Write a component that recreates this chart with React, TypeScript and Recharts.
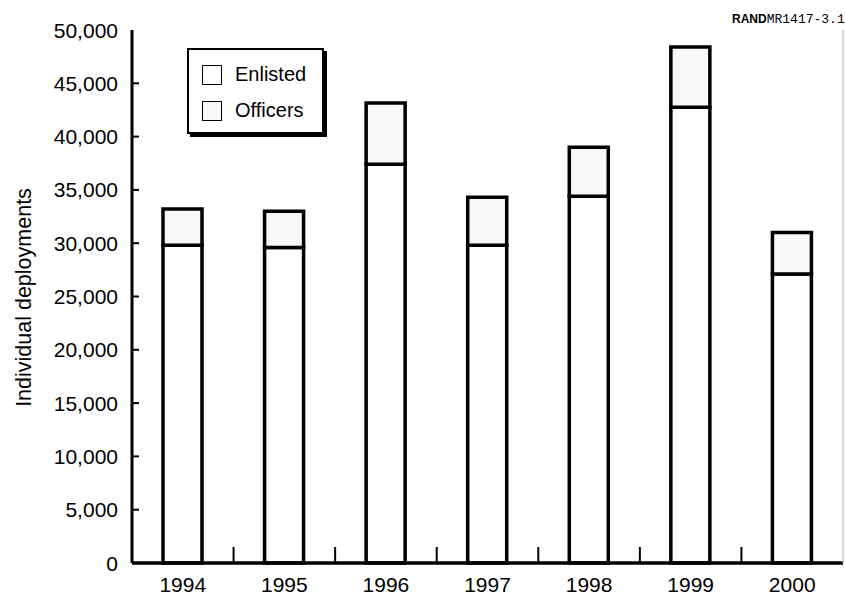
import React from 'react';
import { BarChart, Bar, XAxis, YAxis, Legend } from 'recharts';

const years = ['1994', '1995', '1996', '1997', '1998', '1999', '2000'];
const enlisted = [29800, 29600, 37400, 29800, 34400, 42750, 27100];
const officers = [3400, 3400, 5750, 4500, 4600, 5650, 3900];
const yTicks = [0, 5000, 10000, 15000, 20000, 25000, 30000, 35000, 40000, 45000, 50000];
const seriesNames = ['Enlisted', 'Officers'];

const data = years.map((year, i) => ({ year, enlisted: enlisted[i], officers: officers[i] }));

const FONT = '"Liberation Sans", Arial, Helvetica, sans-serif';

function XTick(props: any) {
  const { x, y, payload, index, width } = props;
  const band = (typeof width === 'number' && width > 0 ? width : 711) / years.length;
  return (
    <g>
      <text x={x} y={y + 29} textAnchor="middle" fontSize={21} fontFamily={FONT} fill="#000">
        {payload.value}
      </text>
      {index < years.length - 1 && (
        <line x1={x + band / 2} x2={x + band / 2} y1={y} y2={y - 16} stroke="#000" strokeWidth={2} />
      )}
    </g>
  );
}

function YTick(props: any) {
  const { x, y, payload } = props;
  const v = payload.value as number;
  return (
    <g>
      <text x={x} y={y} dy={7.5} textAnchor="end" fontSize={21} fontFamily={FONT} fill="#000">
        {v.toLocaleString('en-US')}
      </text>
      {v > 0 && v < 50000 && (
        <line x1={x + 14} x2={x + 21} y1={y} y2={y} stroke="#000" strokeWidth={2} />
      )}
    </g>
  );
}

function YLabel(props: any) {
  const vb = props.viewBox || { x: 0, y: 30, width: 132, height: 533 };
  const cx = vb.x + 31;
  const cy = vb.y + vb.height / 2 + 1;
  return (
    <text
      x={cx}
      y={cy}
      transform={`rotate(-90 ${cx} ${cy})`}
      textAnchor="middle"
      fontSize={21.5}
      fontFamily={FONT}
      fill="#000"
    >
      Individual deployments
    </text>
  );
}

function LegendBox(props: any) {
  const payload = props.payload || [];
  return (
    <div
      style={{
        width: 133,
        height: 82,
        border: '2px solid #000',
        boxShadow: '3px 3px 0 #000',
        background: '#fff',
        fontFamily: FONT,
        fontSize: 20,
        color: '#000',
        position: 'relative',
      }}
    >
      {payload.map((p: any, i: number) => (
        <div
          key={i}
          style={{
            position: 'absolute',
            left: 13,
            top: 14 + i * 36,
            display: 'flex',
            alignItems: 'center',
            whiteSpace: 'nowrap',
          }}
        >
          <div
            style={{
              width: 18,
              height: 18,
              border: '1.5px solid #000',
              background: p.color,
              marginRight: 13,
            }}
          />
          <span style={{ lineHeight: '21px' }}>{p.value}</span>
        </div>
      ))}
    </div>
  );
}

export default function App() {
  return (
    <div
      style={{
        position: 'absolute',
        left: 0,
        top: 0,
        width: 845,
        height: 597,
        overflow: 'hidden',
        background: '#fff',
      }}
    >
      <BarChart
        width={845}
        height={597}
        data={data}
        margin={{ top: 30, right: 0, left: 0, bottom: 0 }}
        barSize={39}
      >
        <XAxis
          dataKey="year"
          height={34}
          tickSize={0}
          tickMargin={0}
          tickLine={false}
          axisLine={{ stroke: '#000', strokeWidth: 3.5 }}
          tick={<XTick />}
          interval={0}
        />
        <XAxis
          xAxisId="top"
          dataKey="year"
          orientation="top"
          height={0}
          tick={false}
          tickLine={false}
          axisLine={{ stroke: '#000', strokeWidth: 2 }}
        />
        <YAxis
          width={132}
          domain={[0, 50000]}
          ticks={yTicks}
          interval={0}
          tickSize={0}
          tickMargin={14}
          tickLine={false}
          axisLine={{ stroke: '#000', strokeWidth: 3 }}
          tick={<YTick />}
          label={<YLabel />}
        />
        <YAxis
          yAxisId="right"
          orientation="right"
          width={2}
          domain={[0, 50000]}
          tick={false}
          tickLine={false}
          axisLine={{ stroke: '#aaa', strokeWidth: 1 }}
        />
        <Legend
          layout="vertical"
          align="center"
          verticalAlign="middle"
          wrapperStyle={{ left: 187, top: 48, width: 'auto', height: 'auto' }}
          content={<LegendBox />}
        />
        <Bar
          dataKey="enlisted"
          name={seriesNames[0]}
          stackId="a"
          fill="#ffffff"
          stroke="#000"
          strokeWidth={3.5}
          isAnimationActive={false}
        />
        <Bar
          dataKey="officers"
          name={seriesNames[1]}
          stackId="a"
          fill="#f8f8f8"
          stroke="#000"
          strokeWidth={3.5}
          isAnimationActive={false}
        />
      </BarChart>
      <div
        style={{
          position: 'absolute',
          left: 732,
          top: 11,
          whiteSpace: 'nowrap',
          lineHeight: '13px',
          color: '#000',
        }}
      >
        <span style={{ fontFamily: FONT, fontWeight: 'bold', fontSize: 12 }}>RAND</span>
        <span style={{ fontFamily: '"Liberation Mono", "DejaVu Sans Mono", monospace', fontSize: 13 }}>
          MR1417-3.1
        </span>
      </div>
    </div>
  );
}
